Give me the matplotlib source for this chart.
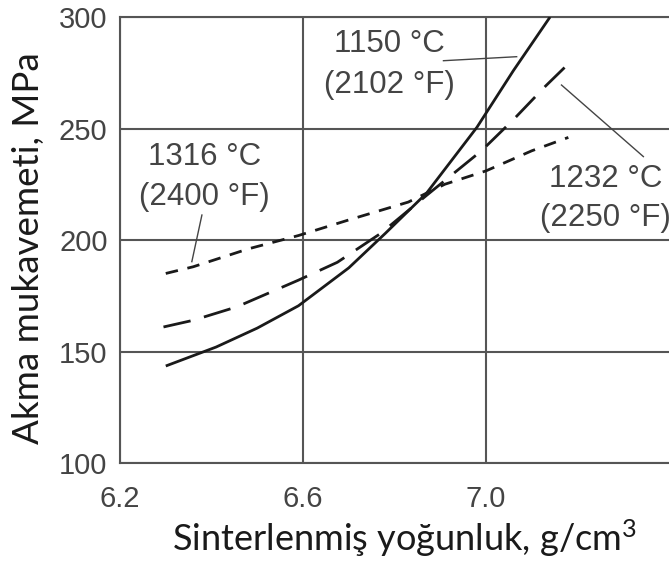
import matplotlib
matplotlib.use("Agg")
import matplotlib.pyplot as plt

plt.rcParams["mathtext.fontset"] = "custom"
plt.rcParams["mathtext.rm"] = "Lato"
plt.rcParams["mathtext.it"] = "Lato:italic"

# values
x_1150 = [6.30, 6.41, 6.50, 6.59, 6.70, 6.78, 6.87, 6.98, 7.06, 7.14]
y_1150 = [143.5, 152, 160.5, 170.5, 187.5, 203, 221, 250.5, 276, 300]

x_1232 = [6.295, 6.36, 6.455, 6.59, 6.675, 6.77, 6.87, 6.99, 7.06, 7.13, 7.18]
y_1232 = [161, 164, 170, 182, 190, 203, 220, 240, 254, 269, 279]

x_1316 = [6.30, 6.36, 6.48, 6.59, 6.70, 6.83, 6.91, 7.00, 7.10, 7.18]
y_1316 = [185, 188, 196, 202, 209, 217, 225, 231, 240, 246]

xticks = [6.2, 6.6, 7.0]
xtick_labels = ["6.2", "6.6", "7.0"]
yticks = [100, 150, 200, 250, 300]

celsius = ["1150 °C", "1232 °C", "1316 °C"]
fahrenheit = ["(2102 °F)", "(2250 °F)", "(2400 °F)"]

grid_c = "#555555"
text_c = "#444444"
line_c = "#1a1a1a"

fig = plt.figure(figsize=(6.69, 5.63), dpi=100)
ax = fig.add_axes([0.1794, 0.1776, 0.8206, 0.7922])

ax.plot(x_1150, y_1150, color=line_c, lw=2.0, solid_capstyle="butt", zorder=3)
ax.plot(x_1232, y_1232, color=line_c, lw=2.0, dashes=(10, 5), zorder=3)
ax.plot(x_1316, y_1316, color=line_c, lw=2.0, dashes=(4.5, 3.5), zorder=3)

ax.set_xlim(6.2, 7.4)
ax.set_ylim(100, 300)
ax.set_xticks(xticks)
ax.set_xticklabels(xtick_labels)
ax.set_yticks(yticks)

ax.grid(True, color=grid_c, lw=1.5, zorder=1)
for side in ["left", "bottom", "top"]:
    ax.spines[side].set_color(grid_c)
    ax.spines[side].set_linewidth(1.5)
ax.spines["right"].set_visible(False)

ax.tick_params(axis="both", length=0, labelsize=21, labelcolor=text_c)
ax.tick_params(axis="x", pad=16)
ax.tick_params(axis="y", pad=9)
for lab in ax.get_xticklabels() + ax.get_yticklabels():
    lab.set_family("Liberation Sans")

# leader lines
ax.plot([6.907, 7.067], [280.4, 282.2], color=text_c, lw=1, zorder=2)
ax.plot([7.165, 7.344], [269.5, 237.4], color=text_c, lw=1, zorder=2)
ax.plot([6.379, 6.357], [211.2, 190.3], color=text_c, lw=1, zorder=2)

txt = dict(family="Liberation Sans", fontsize=22.5, color=text_c,
           ha="center", va="baseline")
# (x, baseline of °C line, baseline of °F line)
label_pos = [(6.788, 284.3, 265.9), (7.262, 223.8, 206.3), (6.385, 233.6, 215.7)]
for (lx, yc, yf), c, f in zip(label_pos, celsius, fahrenheit):
    ax.text(lx, yc, c, clip_on=False, **txt)
    ax.text(lx, yf, f, clip_on=False, **txt)

fig.text(0.604, 0.022, "Sinterlenmiş yoğunluk, g/cm$^3$", family="Lato",
         fontsize=26, color=line_c, ha="center", va="baseline")
fig.text(0.042, 0.56, "Akma mukavemeti, MPa", family="Lato",
         fontsize=26.5, color=line_c, ha="center", va="center", rotation=90)

fig.savefig("out.png", dpi=100)
